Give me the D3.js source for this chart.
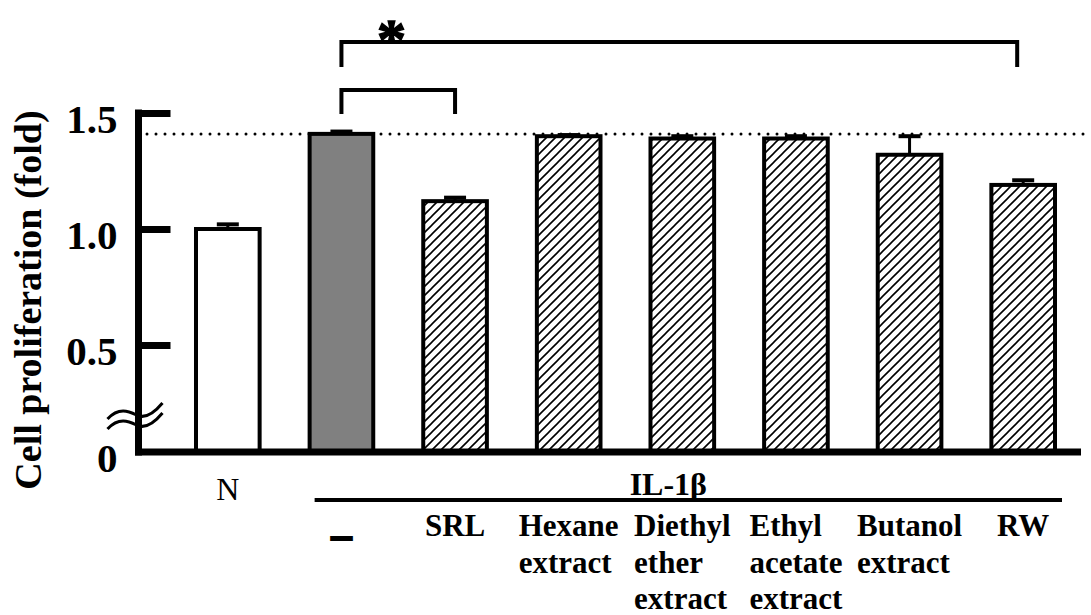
<!DOCTYPE html>
<html><head><meta charset="utf-8">
<script src="https://cdn.jsdelivr.net/npm/d3@7"></script>
<style>body{margin:0;background:#fff}svg{display:block}</style>
</head><body><svg id="c" width="1091" height="615"></svg>
<script>
const categories = ["N", "-", "SRL", "Hexane extract", "Diethyl ether extract", "Ethyl acetate extract", "Butanol extract", "RW"];
const labelLines = [["N"], ["–"], ["SRL"], ["Hexane", "extract"], ["Diethyl", "ether", "extract"], ["Ethyl", "acetate", "extract"], ["Butanol", "extract"], ["RW"]];
const values = [1.00, 1.41, 1.12, 1.40, 1.39, 1.39, 1.32, 1.19];
const errors = [0.02, 0.01, 0.015, 0.005, 0.01, 0.01, 0.08, 0.02];
const fills = ["open", "solid", "hatch", "hatch", "hatch", "hatch", "hatch", "hatch"];
const yTicks = [0, 0.5, 1.0, 1.5];
const yTickLabels = ["0", "0.5", "1.0", "1.5"];
const groupLabel = "IL-1β";
const yTitle = "Cell proliferation (fold)";
const sigMark = "*";

const svg = d3.select("#c");
svg.append("rect").attr("width", 1091).attr("height", 615).attr("fill", "#fff");

// font detection: pick a serif family; fake bold with a stroke if no real bold face
function tw(fam, wt, txt) {
  const t = svg.append("text").attr("font-family", fam).attr("font-weight", wt).attr("font-size", 100).text(txt);
  const w = t.node().getComputedTextLength(); t.remove(); return w;
}
const probe = "Hexane extract";
const sansB = tw("Liberation Sans", "bold", probe), sansR = tw("Liberation Sans", "normal", probe);
let serif = "Liberation Serif", realBold = true;
const cands = ["Liberation Serif", "Times New Roman", "DejaVu Serif", "serif"];
let found = false;
for (const f of cands) {
  const b = tw(f, "bold", probe);
  if (Math.abs(b - sansB) > 8) { serif = f; realBold = true; found = true; break; }
}
if (!found) {
  for (const f of cands) {
    const r = tw(f, "normal", probe);
    if (Math.abs(r - sansR) > 8) { serif = f; realBold = false; found = true; break; }
  }
}
function boldText(sel, size) {
  sel.attr("font-family", serif).attr("font-size", size).attr("fill", "#000");
  if (realBold) sel.attr("font-weight", "bold");
  else sel.attr("stroke", "#000").attr("stroke-width", size * 0.045).attr("stroke-linejoin", "round");
  return sel;
}

// pattern
const defs = svg.append("defs");
const pat = defs.append("pattern").attr("id", "hatch").attr("patternUnits", "userSpaceOnUse")
  .attr("width", 9).attr("height", 9);
pat.append("rect").attr("width", 9).attr("height", 9).attr("fill", "#fff");
pat.append("path").attr("d", "M0,9 L9,0 M-2,2 L2,-2 M7,11 L11,7")
  .attr("stroke", "#000").attr("stroke-width", 1.6);

// scales (broken axis: 0 .. 0.5 compressed)
const y = d3.scaleLinear().domain([0, 0.5, 1.5]).range([452, 345, 113]);
const x = d3.scaleBand().domain(categories).range([171, 1080]).paddingInner(0.44).paddingOuter(0.22);
const bw = x.bandwidth();
const fillOf = f => f === "open" ? "#fff" : f === "solid" ? "#808080" : "url(#hatch)";

// dotted reference line at control level
svg.append("line").attr("x1", 147).attr("x2", 1091)
  .attr("y1", y(values[1])).attr("y2", y(values[1]))
  .attr("stroke", "#000").attr("stroke-width", 3).attr("stroke-linecap", "round")
  .attr("stroke-dasharray", "0,9");

// bars
svg.append("g").selectAll("rect").data(categories).join("rect")
  .attr("x", c => x(c)).attr("width", bw)
  .attr("y", (c, i) => y(values[i])).attr("height", (c, i) => y(0) - y(values[i]))
  .attr("fill", (c, i) => fillOf(fills[i]))
  .attr("stroke", "#000").attr("stroke-width", 4);

// error bars
const eg = svg.append("g");
categories.forEach((c, i) => {
  const cx = x(c) + bw / 2;
  eg.append("line").attr("x1", cx).attr("x2", cx).attr("y1", y(values[i])).attr("y2", y(values[i] + errors[i]))
    .attr("stroke", "#000").attr("stroke-width", 3);
  eg.append("line").attr("x1", cx - 11).attr("x2", cx + 11).attr("y1", y(values[i] + errors[i])).attr("y2", y(values[i] + errors[i]))
    .attr("stroke", "#000").attr("stroke-width", 4);
});

// y axis
const axisX = 138.5;
const ax = svg.append("g").attr("transform", `translate(${axisX},0)`)
  .call(d3.axisLeft(y).tickValues(yTicks).tickFormat((d, i) => yTickLabels[i]).tickSize(-32).tickPadding(21));
ax.select(".domain").remove();
ax.selectAll(".tick line").attr("stroke", "#000").attr("stroke-width", 7).filter(d => d === 0).remove();
boldText(ax.selectAll(".tick text"), 41).attr("dy", "0.47em");
svg.append("line").attr("x1", axisX).attr("x2", axisX).attr("y1", y(1.5) - 3.5).attr("y2", y(0) + 3.5)
  .attr("stroke", "#000").attr("stroke-width", 7);
// baseline
svg.append("line").attr("x1", axisX - 3.5).attr("x2", x(categories[7]) + bw + 26).attr("y1", y(0)).attr("y2", y(0))
  .attr("stroke", "#000").attr("stroke-width", 7);

// axis break symbol
const by = y(0) - 34;
[-5, 5].forEach(o => {
  svg.append("path")
    .attr("d", `M${axisX - 31},${by + o + 6} C${axisX - 20},${by + o - 6} ${axisX - 10},${by + o - 2} ${axisX - 2},${by + o + 2} S${axisX + 14},${by + o + 2} ${axisX + 24},${by + o - 10}`)
    .attr("fill", "none").attr("stroke", "#000").attr("stroke-width", 3);
});

// y title
boldText(svg.append("text").attr("transform", `translate(41,${(110 + 490) / 2}) rotate(-90)`)
  .attr("text-anchor", "middle").text(yTitle), 38);

// category labels
const rowY = [536, 573, 609];
categories.forEach((c, i) => {
  const cx = x(c) + bw / 2;
  if (i === 0) {
    svg.append("text").attr("x", cx).attr("y", 500).attr("text-anchor", "middle")
      .attr("font-family", serif).attr("font-size", 32).attr("fill", "#000").text(labelLines[i][0]);
    return;
  }
  const g = svg.append("g");
  const ts = labelLines[i].map((t, r) => {
    const isDash = t === "–";
    const s = g.append("text").attr("x", 0).attr("y", rowY[r] + (isDash ? 12 : 0)).text(t);
    boldText(s, isDash ? 40 : 31);
    if (isDash) s.attr("stroke", "#000").attr("stroke-width", 2.2);
    return s;
  });
  const w = d3.max(ts, t => t.node().getComputedTextLength());
  g.attr("transform", `translate(${cx - w / 2},0)`);
});

// IL-1β group line
const gx1 = x(categories[1]) + 5, gx2 = x(categories[7]) + bw + 7;
svg.append("line").attr("x1", gx1).attr("x2", gx2).attr("y1", 500).attr("y2", 500)
  .attr("stroke", "#000").attr("stroke-width", 4);
boldText(svg.append("text").attr("x", (gx1 + gx2) / 2 - 20).attr("y", 495).attr("text-anchor", "middle").text(groupLabel), 32);

// significance brackets
const c1 = x(categories[1]) + bw / 2, c2 = x(categories[2]) + bw / 2, c7 = x(categories[7]) + bw / 2 - 6;
const br = svg.append("g").attr("fill", "none").attr("stroke", "#000").attr("stroke-width", 4);
br.append("path").attr("d", `M${c1},67 V42 H${c7} V67`);
br.append("path").attr("d", `M${c1},114 V90 H${c2} V114`);
boldText(svg.append("text").attr("x", c1 + 50).attr("y", 59).attr("text-anchor", "middle").text(sigMark), 58)
  .attr("stroke", "#000").attr("stroke-width", 1.5);
</script></body></html>
